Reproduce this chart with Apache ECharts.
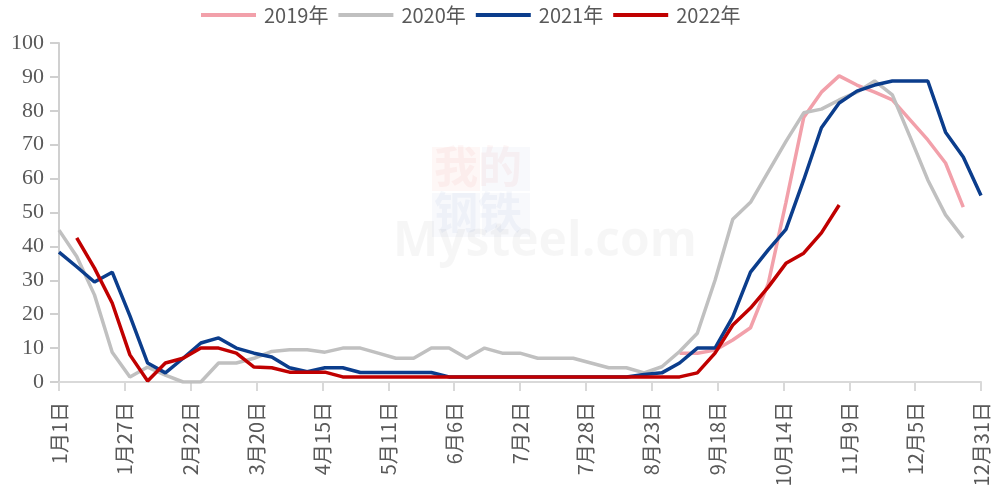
<!DOCTYPE html>
<html lang="zh">
<head>
    <meta charset="UTF-8">
    <title></title>
    <script src="https://cdn.jsdelivr.net/npm/echarts@6/dist/echarts.min.js"></script>
</head>
<style>
    html, body { margin: 0; padding: 0; background: #fff; }
    #main { width: 994px; height: 497px; }
</style>
<body>
<div id="main"></div>
<script>
    // weekly points, k-th point is day 7*k of the year
    var tickLabels = ['1月1日', '1月27日', '2月22日', '3月20日', '4月15日', '5月11日', '6月6日', '7月2日',
        '7月28日', '8月23日', '9月18日', '10月14日', '11月9日', '12月5日', '12月31日'];
    var seriesNames = ['2019年', '2020年', '2021年', '2022年'];
    var colors = ['#f2a0aa', '#c0c0c0', '#0b3d8c', '#c00000'];

    var v2019 = [null, null, null, null, null, null, null, null, null, null,
        null, null, null, null, null, null, null, null, null, null,
        null, null, null, null, null, null, null, null, null, null,
        null, null, null, null, null,
        8.5, 8.5, 9.4, 12.4, 16, 29, 53, 78, 85.5, 90.3, 87.6, 85.5, 83.2, 77.3, 71.4, 64.6, 51.6, null];
    var v2020 = [44.8, 37, 25.7, 8.8, 1.5, 4.4, 2, 0, 0, 5.6, 5.6, 7, 9, 9.5, 9.5, 8.8, 10, 10, 8.5, 7,
        7, 10, 10, 7, 10, 8.5, 8.5, 7, 7, 7, 5.6, 4.2, 4.2, 2.7,
        4.5, 9, 14.4, 30, 48, 53, 62, 71, 79.4, 80.5, 83.2, 85.5, 88.8, 84.7, 72.3, 59.6, 49.3, 42.5, null];
    var v2021 = [38.3, 34, 29.5, 32.4, 19.5, 5.6, 2.7, 7, 11.5, 13, 10, 8.5, 7.4, 4.2, 3, 4.2, 4.2, 2.8, 2.8, 2.8,
        2.8, 2.8, 1.5, 1.5, 1.5, 1.5, 1.5, 1.5, 1.5, 1.5, 1.5, 1.5, 1.5,
        2.2, 2.7, 5.6, 10, 10, 19.2, 32.4, 39, 45, 59.6, 75, 82.3, 85.8, 87.6, 88.8, 88.8, 88.8, 73.7, 66.4, 55];
    var v2022 = [null, 42.5, 33.6, 23.3, 8, 0.3, 5.6, 7, 10, 10, 8.5, 4.4, 4.2, 2.9, 2.9, 2.9,
        1.5, 1.5, 1.5, 1.5, 1.5, 1.5, 1.5, 1.5, 1.5, 1.5, 1.5, 1.5, 1.5, 1.5, 1.5, 1.5, 1.5, 1.5, 1.5, 1.5,
        2.7, 8.5, 16.8, 21.8, 28, 35, 38, 44, 52.2,
        null, null, null, null, null, null, null, null];

    function toPairs(arr) {
        var out = [];
        for (var i = 0; i < arr.length; i++) {
            out.push([i * 7, arr[i]]);
        }
        return out;
    }

    var allValues = [v2019, v2020, v2021, v2022];
    var series = [];
    for (var s = 0; s < seriesNames.length; s++) {
        series.push({
            name: seriesNames[s],
            type: 'line',
            data: toPairs(allValues[s]),
            showSymbol: false,
            symbol: 'none',
            connectNulls: false,
            lineStyle: { width: 3.5, color: colors[s] },
            itemStyle: { color: colors[s] }
        });
    }

    var option = {
        animation: false,
        color: colors,
        graphic: [
            {
                type: 'rect', left: 432, top: 147, shape: { width: 48, height: 44 },
                style: { fill: 'rgba(230,120,110,0.06)' }
            },
            {
                type: 'rect', left: 482, top: 147, shape: { width: 48, height: 44 },
                style: { fill: 'rgba(120,140,200,0.05)' }
            },
            {
                type: 'rect', left: 432, top: 193, shape: { width: 48, height: 44 },
                style: { fill: 'rgba(120,140,200,0.05)' }
            },
            {
                type: 'rect', left: 482, top: 193, shape: { width: 48, height: 44 },
                style: { fill: 'rgba(120,140,200,0.05)' }
            },
            {
                type: 'text', left: 434, top: 144,
                style: { text: '我的', font: 'bold 44px "Noto Sans CJK SC"', fill: 'rgba(220,80,80,0.06)' }
            },
            {
                type: 'text', left: 434, top: 190,
                style: { text: '钢铁', font: 'bold 44px "Noto Sans CJK SC"', fill: 'rgba(60,90,170,0.05)' }
            },
            {
                type: 'text', left: 393, top: 218,
                style: { text: 'Mysteel.com', font: 'bold 48px "Open Sans"', fill: 'rgba(0,0,0,0.035)' }
            }
        ],
        legend: {
            top: 0,
            left: 196,
            icon: 'rect',
            itemWidth: 55,
            itemHeight: 4,
            itemGap: 10,
            textStyle: { fontSize: 20, color: '#595959', fontFamily: 'Noto Sans CJK SC', padding: [0, 0, 0, 3] },
            data: seriesNames
        },
        grid: { left: 59, right: 13, top: 43, bottom: 115 },
        xAxis: {
            type: 'value',
            min: 0,
            max: 364,
            interval: 26,
            axisLine: { show: true, lineStyle: { color: '#d9d9d9', width: 2 } },
            axisTick: { show: true, length: 9, lineStyle: { color: '#d9d9d9', width: 2 } },
            splitLine: { show: false },
            axisLabel: {
                rotate: 90,
                margin: 20,
                fontSize: 20,
                color: '#595959',
                fontFamily: 'Noto Sans CJK SC',
                formatter: function (v) {
                    return tickLabels[Math.round(v / 26)];
                }
            }
        },
        yAxis: {
            type: 'value',
            min: 0,
            max: 100,
            interval: 10,
            axisLine: { show: true, lineStyle: { color: '#d0d0d0', width: 2 } },
            axisTick: { show: true, length: 9, lineStyle: { color: '#d0d0d0', width: 2 } },
            splitLine: { show: false },
            axisLabel: {
                margin: 15,
                fontSize: 22,
                color: '#595959',
                fontFamily: 'Liberation Serif'
            }
        },
        series: series
    };

    var chart = echarts.init(document.getElementById('main'));
    chart.setOption(option);
</script>
</body>
</html>
